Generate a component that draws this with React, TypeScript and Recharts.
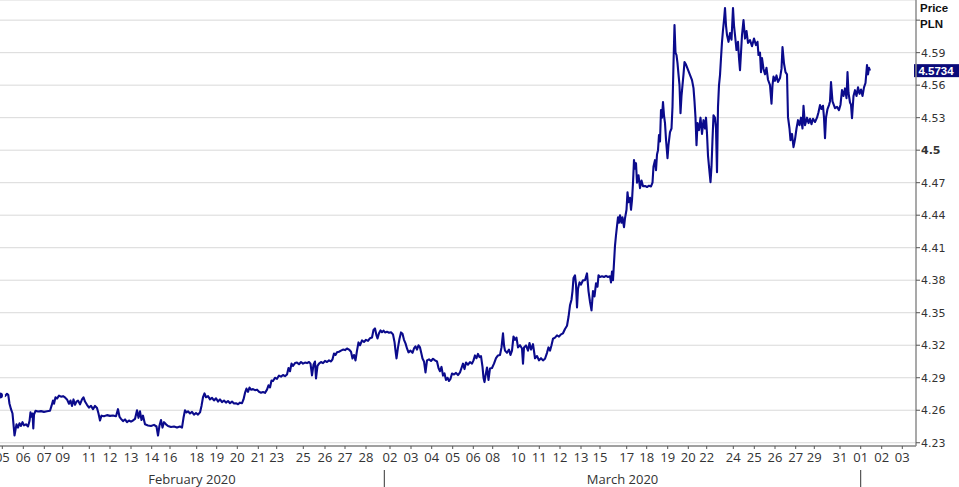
import { LineChart, Line, XAxis, YAxis, CartesianGrid, ReferenceLine } from "recharts"

// trading-time position (1 weekday ≈ 20.8 units) and EUR/PLN price
const PRICE_PATH: [number, number][] = [
  [0, 4.2736], [3, 4.2745], [5, 4.273], [7, 4.2752], [8.3, 4.274], [9.5, 4.266], [11, 4.261], [12.5, 4.257],
  [13.5, 4.247], [14.5, 4.2367], [15.5, 4.242], [16.5, 4.247], [18, 4.244], [19.5, 4.248], [21, 4.2455],
  [22.5, 4.249], [24, 4.246], [26, 4.247], [28, 4.245], [29.5, 4.25], [30.5, 4.258], [31.5, 4.254],
  [32.5, 4.257], [33.3, 4.2431], [34, 4.256], [35.5, 4.2595], [38, 4.2588], [41, 4.2592], [44, 4.2585],
  [47, 4.259], [50, 4.2595], [51.5, 4.264], [53, 4.269], [54, 4.266], [55.5, 4.272], [57, 4.2708],
  [59, 4.2735], [61, 4.2725], [63, 4.273], [65, 4.2718], [67, 4.27], [69, 4.266], [70.5, 4.269],
  [72, 4.264], [73.5, 4.27], [75, 4.265], [76.5, 4.268], [78, 4.269], [80, 4.2655], [82, 4.27],
  [83.5, 4.272], [85, 4.268], [87, 4.265], [89, 4.2625], [91, 4.264], [93, 4.261], [95, 4.264],
  [97, 4.262], [98.5, 4.257], [100, 4.2505], [101.5, 4.255], [104, 4.2545], [107, 4.2555], [110, 4.2548],
  [113, 4.2552], [116, 4.2545], [118, 4.261], [119.5, 4.254], [121, 4.252], [123, 4.25], [125, 4.2515],
  [127, 4.249], [129, 4.2505], [131, 4.2495], [133, 4.2505], [135, 4.252], [137, 4.26], [138.5, 4.253],
  [140, 4.259], [141.5, 4.251], [143, 4.255], [145, 4.247], [148, 4.246], [151, 4.2455], [154, 4.2465],
  [156.5, 4.245], [158, 4.2367], [159.5, 4.246], [161, 4.251], [162.5, 4.244], [164, 4.249], [166, 4.247],
  [168, 4.2455], [171, 4.2445], [174, 4.245], [177, 4.244], [180, 4.245], [182, 4.244], [183.5, 4.253],
  [185, 4.26], [186.5, 4.258], [188, 4.259], [190, 4.257], [192, 4.2585], [194, 4.256], [196, 4.2575],
  [198, 4.256], [200, 4.258], [201.5, 4.264], [203, 4.272], [204.5, 4.2755], [206, 4.272], [208, 4.273],
  [210, 4.27], [212, 4.2715], [214, 4.269], [216, 4.271], [218, 4.268], [220, 4.27], [222, 4.2675],
  [224, 4.269], [226, 4.267], [228, 4.2685], [230, 4.2665], [232, 4.268], [234, 4.2662], [236, 4.2665],
  [238, 4.2655], [240, 4.267], [242, 4.2665], [243.5, 4.27], [245, 4.276], [246.5, 4.28], [248, 4.277],
  [249.5, 4.281], [251, 4.279], [253, 4.2795], [255, 4.2785], [257, 4.279], [259, 4.277], [261, 4.2762],
  [263, 4.2768], [265, 4.276], [267, 4.279], [268.5, 4.283], [270, 4.281], [271.5, 4.2875], [273, 4.287],
  [275, 4.29], [277, 4.289], [279, 4.292], [281, 4.291], [283, 4.2925], [285, 4.2915], [287, 4.293],
  [288.5, 4.299], [290, 4.296], [291.5, 4.303], [293, 4.301], [295, 4.3035], [297, 4.304], [299, 4.3025],
  [301, 4.3045], [303, 4.303], [305, 4.304], [307, 4.3035], [309, 4.3045], [310.5, 4.303], [312, 4.2921],
  [313.5, 4.302], [315, 4.305], [316, 4.2893], [317.5, 4.301], [319, 4.303], [321, 4.3045], [323, 4.3035],
  [325, 4.3055], [327, 4.3045], [329, 4.306], [331, 4.305], [332.5, 4.307], [334, 4.3124], [335.5, 4.311],
  [337, 4.3135], [339, 4.314], [341, 4.315], [343, 4.316], [345, 4.3155], [347, 4.317], [349, 4.316],
  [351, 4.314], [352.5, 4.3078], [354, 4.311], [355.5, 4.306], [357, 4.315], [358.5, 4.3226], [360, 4.32],
  [362, 4.3244], [364, 4.323], [366, 4.325], [368, 4.324], [370, 4.3265], [372, 4.3272], [373.5, 4.334],
  [375, 4.3355], [376.5, 4.329], [377.5, 4.3263], [379, 4.331], [380.5, 4.3337], [382, 4.332],
  [383.5, 4.3335], [385, 4.3318], [387, 4.3325], [389, 4.3315], [391, 4.332], [393, 4.33], [394.5, 4.323],
  [395.5, 4.315], [396.5, 4.3078], [398, 4.318], [399.5, 4.326], [401, 4.3318], [402.5, 4.3305],
  [404, 4.325], [405.5, 4.3217], [407, 4.317], [408.5, 4.3134], [410.5, 4.315], [412.5, 4.313],
  [414, 4.317], [415.5, 4.3189], [417, 4.316], [418.5, 4.32], [420, 4.318], [421.5, 4.312], [422.5, 4.3078],
  [424, 4.305], [425.5, 4.2949], [427, 4.306], [429, 4.3069], [431, 4.3055], [433, 4.3075], [435, 4.306],
  [437, 4.305], [438.5, 4.299], [440, 4.296], [441.5, 4.3], [443, 4.292], [444.5, 4.294], [446, 4.288],
  [447.5, 4.29], [449, 4.287], [450.5, 4.289], [452, 4.2939], [454, 4.293], [456, 4.2945], [458, 4.2925],
  [460, 4.295], [461.5, 4.299], [463, 4.303], [464.5, 4.298], [466, 4.304], [468, 4.302], [470, 4.3045],
  [472, 4.303], [473.5, 4.306], [475, 4.3106], [476.5, 4.308], [478, 4.312], [479.5, 4.309], [481, 4.31],
  [482.5, 4.3], [483.5, 4.29], [484.5, 4.286], [485.5, 4.292], [487, 4.2995], [488.5, 4.288], [490, 4.2986],
  [492, 4.299], [494, 4.303], [496, 4.308], [498, 4.3106], [500, 4.311], [501.5, 4.318], [503, 4.3309],
  [504, 4.32], [505, 4.315], [507, 4.313], [509, 4.316], [510.5, 4.311], [512, 4.315], [513.5, 4.3281],
  [515, 4.325], [516.5, 4.327], [518, 4.318], [520, 4.32], [522, 4.317], [523, 4.303], [524, 4.318],
  [526, 4.3198], [528, 4.315], [529.5, 4.322], [531, 4.316], [533, 4.321], [535, 4.308], [537, 4.31],
  [539, 4.306], [541, 4.308], [543, 4.306], [545, 4.3075], [547, 4.313], [548.5, 4.318], [550, 4.315],
  [551.5, 4.32], [553, 4.326], [555, 4.327], [557, 4.3291], [559, 4.328], [561, 4.33], [563, 4.331],
  [565, 4.335], [567, 4.338], [568.5, 4.346], [570, 4.3568], [571.5, 4.362], [572.5, 4.37], [573.5, 4.382],
  [575, 4.3845], [576, 4.376], [577, 4.3549], [578, 4.372], [579.5, 4.378], [581, 4.376], [583, 4.38],
  [585, 4.3799], [587, 4.3863], [588.5, 4.37], [590, 4.36], [591.5, 4.3522], [593, 4.37], [594.5, 4.365],
  [596, 4.3771], [597.5, 4.374], [598.5, 4.3845], [600, 4.383], [602, 4.3836], [604, 4.383], [606, 4.384],
  [608, 4.383], [610, 4.3836], [611, 4.378], [612, 4.388], [613, 4.38], [614, 4.396], [615, 4.412],
  [616, 4.4215], [617, 4.43], [618, 4.438], [619, 4.433], [620, 4.4399], [621.5, 4.433], [622.5, 4.438],
  [624, 4.429], [625, 4.4372], [626.5, 4.445], [627.5, 4.4612], [628.5, 4.452], [630, 4.456], [631, 4.445],
  [632, 4.4538], [633, 4.47], [634, 4.4908], [635, 4.483], [636, 4.488], [637, 4.47], [638.5, 4.4769],
  [640, 4.465], [641.5, 4.472], [643, 4.4667], [645, 4.467], [647, 4.466], [649, 4.4672], [651, 4.4665],
  [652.5, 4.47], [653.5, 4.485], [655, 4.4908], [656, 4.4815], [657, 4.496], [658, 4.5], [659, 4.5139],
  [660, 4.508], [661, 4.537], [662, 4.53], [663, 4.5444], [664, 4.532], [665, 4.525], [666, 4.51],
  [667.5, 4.4926], [668.5, 4.505], [670, 4.5166], [671.5, 4.52], [672.5, 4.54], [673.5, 4.58],
  [674.5, 4.6155], [675.5, 4.59], [676.5, 4.5878], [677.5, 4.5804], [678.5, 4.57], [679.5, 4.56],
  [680.5, 4.5342], [681.5, 4.55], [682.5, 4.5601], [683.5, 4.57], [684.5, 4.5813], [686, 4.579],
  [692, 4.5647], [693.5, 4.5573], [694.5, 4.545], [695.5, 4.53], [696.5, 4.5046], [697.5, 4.525],
  [699, 4.5185], [700.5, 4.53], [702, 4.515], [703.5, 4.5277], [705, 4.52], [706, 4.53], [707, 4.515],
  [708, 4.495], [709.5, 4.48], [710.5, 4.4704], [711.5, 4.485], [712.5, 4.51], [713.5, 4.5323], [715, 4.53],
  [716, 4.52], [717, 4.4797], [718, 4.54], [719, 4.56], [720, 4.5693], [721, 4.585], [722, 4.6],
  [723, 4.6109], [724, 4.62], [725, 4.6312], [726, 4.615], [727, 4.6063], [728.5, 4.6], [730, 4.608],
  [731.5, 4.602], [733, 4.6312], [734, 4.615], [735, 4.6063], [736.5, 4.5924], [738, 4.6], [739, 4.585],
  [740, 4.5739], [741, 4.59], [742, 4.6063], [743.5, 4.6201], [745, 4.603], [746.5, 4.61], [748, 4.599],
  [750, 4.6016], [752, 4.596], [754, 4.603], [756, 4.597], [757.5, 4.6], [758.5, 4.5878], [760, 4.59],
  [761, 4.572], [762, 4.585], [763.5, 4.575], [765, 4.57], [766.5, 4.576], [768, 4.565], [770, 4.56],
  [771.5, 4.543], [772.5, 4.56], [773.5, 4.568], [775, 4.564], [776.5, 4.569], [778, 4.563], [780, 4.5665],
  [781.5, 4.575], [782.5, 4.5952], [784, 4.58], [785.5, 4.5721], [787, 4.57], [788, 4.5305], [789.5, 4.52],
  [790.5, 4.5092], [792, 4.515], [793.5, 4.5028], [795, 4.51], [796.5, 4.52], [798, 4.5277], [799.5, 4.523],
  [801, 4.53], [802.5, 4.52], [803.5, 4.541], [805, 4.523], [807, 4.53], [808.5, 4.525], [810, 4.529],
  [811.5, 4.524], [813, 4.529], [815, 4.526], [817, 4.53], [818.5, 4.535], [820, 4.5416], [821.5, 4.538],
  [823, 4.541], [824, 4.53], [825, 4.5111], [826, 4.53], [827.5, 4.538], [829, 4.5416], [830, 4.545],
  [831, 4.5628], [832.5, 4.545], [835, 4.5388], [837, 4.54], [839, 4.537], [840.5, 4.542], [842, 4.5554],
  [843.5, 4.55], [845, 4.557], [846.5, 4.548], [847.5, 4.572], [848.5, 4.553], [850, 4.544], [851, 4.542],
  [852, 4.5296], [853.5, 4.55], [855, 4.5554], [856.5, 4.55], [858, 4.558], [859.5, 4.552], [861, 4.556],
  [862.5, 4.55], [864, 4.558], [865.5, 4.562], [867, 4.5785], [868, 4.57], [869, 4.576], [870, 4.5734],
]

const LAST_PRICE = 4.5734

// day labels at the start of each trading session
const DAY_POS = [
  2.3, 23.3, 44.3, 62.7, 89.3, 110, 131, 151.7, 170, 196.7, 216.7, 237.3, 258.3, 276.7, 303.3, 325, 345, 366,
  390, 411, 431.7, 452.7, 473.3, 492.7, 518.3, 539.3, 560, 581, 600, 626.7, 646.7, 667.7, 688.3, 706.7,
  733.3, 754.3, 775, 795.7, 814.3, 840, 860.7, 881.7, 902.3,
]
const DAY_LABELS = [
  "05", "06", "07", "09", "11", "12", "13", "14", "16", "18", "19", "20", "21", "23", "25", "26", "27", "28",
  "02", "03", "04", "05", "06", "08", "10", "11", "12", "13", "15", "17", "18", "19", "20", "22",
  "24", "25", "26", "27", "29", "31", "01", "02", "03",
]

const MONTH_POS = [192, 622.5]
const MONTH_LABELS = ["February 2020", "March 2020"]
const MONTH_BREAKS = [384.3, 860.7]

const PRICE_TICKS = [4.23, 4.26, 4.29, 4.32, 4.35, 4.38, 4.41, 4.44, 4.47, 4.5, 4.53, 4.56, 4.59, 4.62]
const X_DOMAIN: [number, number] = [0, 916]
const Y_DOMAIN: [number, number] = [4.227, 4.6386]

const chartData = PRICE_PATH.map(([t, price]) => ({ t, price }))

const LABEL_FONT = "'Open Sans', 'Noto Sans', sans-serif"
const AXIS_FONT = "'DejaVu Sans', Verdana, sans-serif"

function DayTick(props: any) {
  const { x, y, payload } = props
  const i = DAY_POS.indexOf(payload.value)
  return (
    <text x={x} y={y + 11} textAnchor="middle" fontFamily={LABEL_FONT} fontSize={13} fill="#333">
      {DAY_LABELS[i]}
    </text>
  )
}

function MonthTick(props: any) {
  const { x, y, payload } = props
  const i = MONTH_POS.indexOf(payload.value)
  if (i < 0) {
    return <line x1={x} x2={x} y1={y - 2} y2={y + 18} stroke="#333" strokeWidth={1} />
  }
  return (
    <text x={x} y={y + 12} textAnchor="middle" fontFamily={LABEL_FONT} fontSize={13} fill="#333">
      {MONTH_LABELS[i]}
    </text>
  )
}

function PriceTick(props: any) {
  const { x, y, payload } = props
  const v = payload.value
  if (v === 4.62) return null
  const bold = v === 4.5
  return (
    <text
      x={x - 1}
      y={y + 4}
      textAnchor="start"
      fontFamily={AXIS_FONT}
      fontSize={11}
      fontWeight={bold ? "bold" : "normal"}
      fill="#333"
    >
      {bold ? "4.5" : v.toFixed(2)}
    </text>
  )
}

function LastPriceLabel(props: any) {
  const { viewBox } = props
  const right = viewBox.x + viewBox.width
  const y = viewBox.y
  return (
    <g>
      <rect x={right - 2} y={y - 6.5} width={45} height={13} fill="#0a0a7a" />
      <text
        x={right + 20}
        y={y + 4}
        textAnchor="middle"
        fontFamily="'Liberation Sans', Arial, sans-serif"
        fontWeight="bold"
        fontSize={11.5}
        fill="#fff"
      >
        {LAST_PRICE.toFixed(4)}
      </text>
    </g>
  )
}

export default function App() {
  return (
    <div style={{ position: "absolute", left: 0, top: 0, width: 959, height: 487, background: "#fff" }}>
      <LineChart width={959} height={487} data={chartData} margin={{ top: 0, right: 0, bottom: 0, left: 0 }}>
        <CartesianGrid horizontal vertical={false} stroke="#d9d9d9" xAxisId="day" />
        <XAxis
          xAxisId="top"
          orientation="top"
          type="number"
          dataKey="t"
          domain={X_DOMAIN}
          ticks={DAY_POS}
          interval={0}
          height={0}
          axisLine={false}
          tick={false}
          tickSize={3}
          tickLine={{ stroke: "#c8c8c8" }}
        />
        <XAxis
          xAxisId="day"
          type="number"
          dataKey="t"
          domain={X_DOMAIN}
          ticks={DAY_POS}
          interval={0}
          height={24}
          tickSize={3}
          tickLine={{ stroke: "#555" }}
          axisLine={{ stroke: "#555" }}
          tick={<DayTick />}
          allowDataOverflow
        />
        <XAxis
          xAxisId="month"
          type="number"
          dataKey="t"
          domain={X_DOMAIN}
          ticks={[...MONTH_POS, ...MONTH_BREAKS]}
          interval={0}
          height={17}
          tickSize={0}
          tickLine={false}
          axisLine={false}
          tick={<MonthTick />}
          allowDataOverflow
        />
        <YAxis
          orientation="right"
          type="number"
          domain={Y_DOMAIN}
          ticks={PRICE_TICKS}
          interval={0}
          width={43}
          tickSize={4}
          tickLine={{ stroke: "#555" }}
          axisLine={{ stroke: "#8c8c8c", strokeWidth: 1.5 }}
          tick={<PriceTick />}
          allowDataOverflow
        />
        <ReferenceLine
          xAxisId="day"
          y={LAST_PRICE}
          stroke="none"
          strokeOpacity={0}
          label={<LastPriceLabel />}
        />
        <Line
          xAxisId="day"
          type="linear"
          dataKey="price"
          stroke="#0b0b8c"
          strokeWidth={2.1}
          strokeLinejoin="round"
          dot={false}
          isAnimationActive={false}
        />
      </LineChart>
      <div
        style={{
          position: "absolute",
          left: 920,
          top: 0,
          fontFamily: "'Liberation Sans', Arial, sans-serif",
          fontWeight: "bold",
          fontSize: 11.5,
          lineHeight: "16px",
          color: "#111",
        }}
      >
        <div>Price</div>
        <div>PLN</div>
      </div>
    </div>
  )
}
